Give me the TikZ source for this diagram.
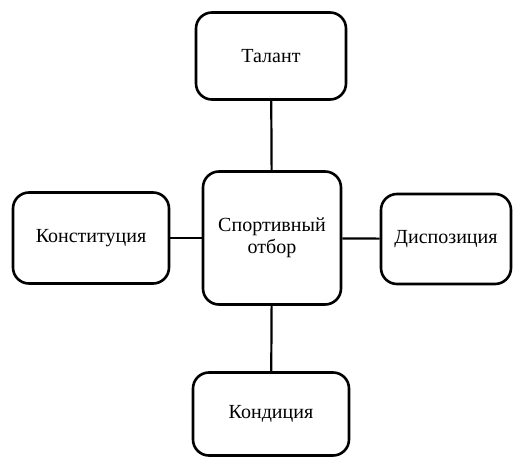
\documentclass[tikz,border=0pt]{standalone}
\usepackage{fontspec}
\setmainfont{Liberation Serif}
\usepackage{tikz}
\usetikzlibrary{ positioning, % For easy node-relative placements
               }

\tikzset{
  box/.style={draw, line width=2.6pt, rounded corners=16pt, align=center,
              inner sep=0pt, font=\rmfamily\fontsize{20}{22}\selectfont},
  link/.style={line width=2.2pt},
}

\begin{document}
\begin{tikzpicture}[x=1pt, y=-1pt]
    \useasboundingbox (0,0) rectangle (515,461);
    \node[box, minimum width=150pt, minimum height=87pt] (talent) at (271,56) {Талант};
    \node[box, minimum width=138pt, minimum height=133pt] (sel) at (272,238) {Спортивный\\отбор};
    \node[box, minimum width=156pt, minimum height=91pt] (constit) at (91,238) {Конституция};
    \node[box, minimum width=130pt, minimum height=90pt] (dispos) at (446,239) {Диспозиция};
    \node[box, minimum width=156pt, minimum height=83pt] (cond) at (271,414) {Кондиция};
    \draw[link] (sel) -- (talent);
    \draw[link] (sel) -- (constit);
    \draw[link] (sel) -- (dispos);
    \draw[link] (sel) -- (cond);
  \end{tikzpicture}
\end{document}
